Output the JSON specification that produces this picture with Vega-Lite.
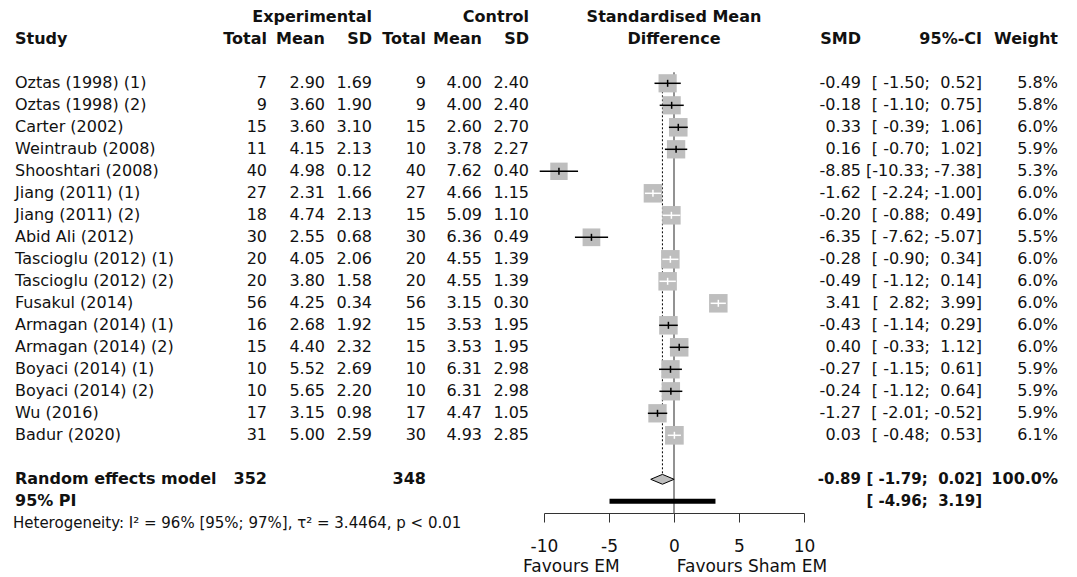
{
  "$schema": "https://vega.github.io/schema/vega-lite/v6.json",
  "width": 1077,
  "height": 513,
  "autosize": "none",
  "padding": {"left": 0, "top": 0, "right": 0, "bottom": 64},
  "config": {
    "view": {"stroke": null},
    "font": "DejaVu Sans",
    "locale": {"number": {"decimal": ".", "thousands": ",", "grouping": [3], "currency": ["$", ""], "minus": "-"}},
    "text": {"font": "DejaVu Sans", "fontSize": 16, "baseline": "middle", "color": "#111111"}
  },
  "datasets": {
    "studies": [
      {"row": "Oztas (1998) (1)", "et": 7, "em": 2.90, "esd": 1.69, "ct": 9, "cm": 4.00, "csd": 2.40, "smd": -0.49, "lo": -1.50, "hi": 0.52, "w": 0.058},
      {"row": "Oztas (1998) (2)", "et": 9, "em": 3.60, "esd": 1.90, "ct": 9, "cm": 4.00, "csd": 2.40, "smd": -0.18, "lo": -1.10, "hi": 0.75, "w": 0.058},
      {"row": "Carter (2002)", "et": 15, "em": 3.60, "esd": 3.10, "ct": 15, "cm": 2.60, "csd": 2.70, "smd": 0.33, "lo": -0.39, "hi": 1.06, "w": 0.060},
      {"row": "Weintraub (2008)", "et": 11, "em": 4.15, "esd": 2.13, "ct": 10, "cm": 3.78, "csd": 2.27, "smd": 0.16, "lo": -0.70, "hi": 1.02, "w": 0.059},
      {"row": "Shooshtari (2008)", "et": 40, "em": 4.98, "esd": 0.12, "ct": 40, "cm": 7.62, "csd": 0.40, "smd": -8.85, "lo": -10.33, "hi": -7.38, "w": 0.053},
      {"row": "Jiang (2011) (1)", "et": 27, "em": 2.31, "esd": 1.66, "ct": 27, "cm": 4.66, "csd": 1.15, "smd": -1.62, "lo": -2.24, "hi": -1.00, "w": 0.060},
      {"row": "Jiang (2011) (2)", "et": 18, "em": 4.74, "esd": 2.13, "ct": 15, "cm": 5.09, "csd": 1.10, "smd": -0.20, "lo": -0.88, "hi": 0.49, "w": 0.060},
      {"row": "Abid Ali (2012)", "et": 30, "em": 2.55, "esd": 0.68, "ct": 30, "cm": 6.36, "csd": 0.49, "smd": -6.35, "lo": -7.62, "hi": -5.07, "w": 0.055},
      {"row": "Tascioglu (2012) (1)", "et": 20, "em": 4.05, "esd": 2.06, "ct": 20, "cm": 4.55, "csd": 1.39, "smd": -0.28, "lo": -0.90, "hi": 0.34, "w": 0.060},
      {"row": "Tascioglu (2012) (2)", "et": 20, "em": 3.80, "esd": 1.58, "ct": 20, "cm": 4.55, "csd": 1.39, "smd": -0.49, "lo": -1.12, "hi": 0.14, "w": 0.060},
      {"row": "Fusakul (2014)", "et": 56, "em": 4.25, "esd": 0.34, "ct": 56, "cm": 3.15, "csd": 0.30, "smd": 3.41, "lo": 2.82, "hi": 3.99, "w": 0.060},
      {"row": "Armagan (2014) (1)", "et": 16, "em": 2.68, "esd": 1.92, "ct": 15, "cm": 3.53, "csd": 1.95, "smd": -0.43, "lo": -1.14, "hi": 0.29, "w": 0.060},
      {"row": "Armagan (2014) (2)", "et": 15, "em": 4.40, "esd": 2.32, "ct": 15, "cm": 3.53, "csd": 1.95, "smd": 0.40, "lo": -0.33, "hi": 1.12, "w": 0.060},
      {"row": "Boyaci (2014) (1)", "et": 10, "em": 5.52, "esd": 2.69, "ct": 10, "cm": 6.31, "csd": 2.98, "smd": -0.27, "lo": -1.15, "hi": 0.61, "w": 0.059},
      {"row": "Boyaci (2014) (2)", "et": 10, "em": 5.65, "esd": 2.20, "ct": 10, "cm": 6.31, "csd": 2.98, "smd": -0.24, "lo": -1.12, "hi": 0.64, "w": 0.059},
      {"row": "Wu (2016)", "et": 17, "em": 3.15, "esd": 0.98, "ct": 17, "cm": 4.47, "csd": 1.05, "smd": -1.27, "lo": -2.01, "hi": -0.52, "w": 0.059},
      {"row": "Badur (2020)", "et": 31, "em": 5.00, "esd": 2.59, "ct": 30, "cm": 4.93, "csd": 2.85, "smd": 0.03, "lo": -0.48, "hi": 0.53, "w": 0.061}
    ],
    "summary": [
      {"row": "Random effects model", "et": 352, "ct": 348, "smd": -0.89, "lo": -1.79, "hi": 0.02, "w": 1.0},
      {"row": "95% PI", "lo": -4.96, "hi": 3.19}
    ]
  },
  "encoding": {
    "y": {
      "field": "row",
      "type": "nominal",
      "scale": {
        "type": "point",
        "padding": 0,
        "range": [17.3, 567.3],
        "domain": ["h1", "h2", "gap1", "Oztas (1998) (1)", "Oztas (1998) (2)", "Carter (2002)", "Weintraub (2008)", "Shooshtari (2008)", "Jiang (2011) (1)", "Jiang (2011) (2)", "Abid Ali (2012)", "Tascioglu (2012) (1)", "Tascioglu (2012) (2)", "Fusakul (2014)", "Armagan (2014) (1)", "Armagan (2014) (2)", "Boyaci (2014) (1)", "Boyaci (2014) (2)", "Wu (2016)", "Badur (2020)", "gap2", "Random effects model", "95% PI", "het", "ticks", "favours"]
      },
      "axis": null
    }
  },
  "layer": [
    {"data": {"values": [{"row": "Oztas (1998) (1)", "row2": "95% PI"}]},
     "mark": {"type": "rule", "color": "#6e6e6e", "strokeWidth": 1.5, "yOffset": -11, "y2Offset": 12},
     "encoding": {"x": {"datum": 0, "type": "quantitative", "scale": {"domain": [-10, 10], "range": [544, 804], "nice": false, "zero": false}, "axis": null},
                  "y2": {"field": "row2"}}},
    {"data": {"name": "summary"}, "transform": [{"filter": "isValid(datum.smd)"}],
     "mark": {"type": "rule", "color": "#000000", "strokeWidth": 1, "strokeDash": [2, 2], "yOffset": 8, "y2Offset": -5},
     "encoding": {"x": {"field": "smd", "type": "quantitative", "scale": {"domain": [-10, 10], "range": [544, 804], "nice": false, "zero": false}, "axis": null},
                  "y": {"datum": "Oztas (1998) (1)", "type": "nominal"},
                  "y2": {"field": "row"}}},
    {"data": {"name": "studies"},
     "mark": {"type": "square", "color": "#bebebe", "opacity": 1, "filled": true},
     "encoding": {
       "x": {"field": "smd", "type": "quantitative", "scale": {"domain": [-10, 10], "range": [544, 804], "nice": false, "zero": false},
             "axis": {"orient": "bottom", "values": [-10, -5, 0, 5, 10], "title": null, "grid": false, "domain": true, "ticks": true, "labels": true, "domainColor": "#333333", "domainWidth": 1, "tickColor": "#333333", "tickSize": 9, "tickWidth": 1, "labelFont": "DejaVu Sans", "labelFontSize": 17, "labelColor": "#111111", "labelPadding": 16, "labelFlush": false, "labelOverlap": false}},
       "size": {"field": "w", "type": "quantitative", "scale": {"domain": [0, 0.06], "range": [0, 342]}, "legend": null}
     }},
    {"data": {"name": "studies"},
     "mark": {"type": "rule", "strokeWidth": 1.5},
     "encoding": {
       "x": {"field": "lo", "type": "quantitative", "scale": {"domain": [-10, 10], "range": [544, 804], "nice": false, "zero": false}, "axis": null},
       "x2": {"field": "hi"},
       "color": {"condition": {"test": "datum.hi - datum.lo < 1.4", "value": "#ffffff"}, "value": "#000000"}
     }},
    {"data": {"name": "studies"},
     "mark": {"type": "tick", "orient": "vertical", "size": 7, "thickness": 1.5, "opacity": 1},
     "encoding": {
       "x": {"field": "smd", "type": "quantitative", "scale": {"domain": [-10, 10], "range": [544, 804], "nice": false, "zero": false}, "axis": null},
       "color": {"condition": {"test": "datum.hi - datum.lo < 1.4", "value": "#ffffff"}, "value": "#000000"}
     }},
    {"data": {"name": "summary"}, "transform": [{"filter": "isValid(datum.smd)"}],
     "mark": {"type": "point", "shape": "M-1,0L0,-0.42L1,0L0,0.42Z", "size": 547, "fill": "#bebebe", "stroke": "#000000", "strokeWidth": 1, "opacity": 1, "fillOpacity": 1},
     "encoding": {"x": {"field": "smd", "type": "quantitative", "scale": {"domain": [-10, 10], "range": [544, 804], "nice": false, "zero": false}, "axis": null}}},
    {"data": {"name": "summary"}, "transform": [{"filter": "!isValid(datum.smd)"}],
     "mark": {"type": "rule", "color": "#000000", "strokeWidth": 5},
     "encoding": {"x": {"field": "lo", "type": "quantitative", "scale": {"domain": [-10, 10], "range": [544, 804], "nice": false, "zero": false}, "axis": null},
                  "x2": {"field": "hi"}}},
    {"data": {"values": [{"row": "h1"}]}, "mark": {"type": "text", "align": "center", "fontWeight": "bold", "text": "Standardised Mean"},
     "encoding": {"x": {"datum": 0, "type": "quantitative", "scale": {"domain": [-10, 10], "range": [544, 804], "nice": false, "zero": false}, "axis": null}}},
    {"data": {"values": [{"row": "h2"}]}, "mark": {"type": "text", "align": "center", "fontWeight": "bold", "text": "Difference"},
     "encoding": {"x": {"datum": 0, "type": "quantitative", "scale": {"domain": [-10, 10], "range": [544, 804], "nice": false, "zero": false}, "axis": null}}},
    {"data": {"values": [{"row": "favours"}]}, "mark": {"type": "text", "align": "center", "fontSize": 17, "text": "Favours EM"},
     "encoding": {"x": {"datum": -7.9, "type": "quantitative", "scale": {"domain": [-10, 10], "range": [544, 804], "nice": false, "zero": false}, "axis": null}}},
    {"data": {"values": [{"row": "favours"}]}, "mark": {"type": "text", "align": "center", "fontSize": 17, "text": "Favours Sham EM"},
     "encoding": {"x": {"datum": 6.0, "type": "quantitative", "scale": {"domain": [-10, 10], "range": [544, 804], "nice": false, "zero": false}, "axis": null}}},

    {"data": {"name": "studies"}, "mark": {"type": "text", "align": "left"},
     "encoding": {"x": {"datum": 15, "type": "quantitative", "scale": {"domain": [0, 1077], "range": [0, 1077]}, "axis": null}, "text": {"field": "row"}}},
    {"data": {"name": "studies"}, "mark": {"type": "text", "align": "right"},
     "encoding": {"x": {"datum": 267, "type": "quantitative", "scale": {"domain": [0, 1077], "range": [0, 1077]}, "axis": null}, "text": {"field": "et", "type": "quantitative", "format": "d"}}},
    {"data": {"name": "studies"}, "mark": {"type": "text", "align": "right"},
     "encoding": {"x": {"datum": 325, "type": "quantitative", "scale": {"domain": [0, 1077], "range": [0, 1077]}, "axis": null}, "text": {"field": "em", "type": "quantitative", "format": ".2f"}}},
    {"data": {"name": "studies"}, "mark": {"type": "text", "align": "right"},
     "encoding": {"x": {"datum": 372, "type": "quantitative", "scale": {"domain": [0, 1077], "range": [0, 1077]}, "axis": null}, "text": {"field": "esd", "type": "quantitative", "format": ".2f"}}},
    {"data": {"name": "studies"}, "mark": {"type": "text", "align": "right"},
     "encoding": {"x": {"datum": 426, "type": "quantitative", "scale": {"domain": [0, 1077], "range": [0, 1077]}, "axis": null}, "text": {"field": "ct", "type": "quantitative", "format": "d"}}},
    {"data": {"name": "studies"}, "mark": {"type": "text", "align": "right"},
     "encoding": {"x": {"datum": 482, "type": "quantitative", "scale": {"domain": [0, 1077], "range": [0, 1077]}, "axis": null}, "text": {"field": "cm", "type": "quantitative", "format": ".2f"}}},
    {"data": {"name": "studies"}, "mark": {"type": "text", "align": "right"},
     "encoding": {"x": {"datum": 529, "type": "quantitative", "scale": {"domain": [0, 1077], "range": [0, 1077]}, "axis": null}, "text": {"field": "csd", "type": "quantitative", "format": ".2f"}}},
    {"data": {"name": "studies"}, "transform": [{"calculate": "replace(format(datum.smd, '.2f'), '\u2212', '-')", "as": "smdt"}], "mark": {"type": "text", "align": "right"},
     "encoding": {"x": {"datum": 861, "type": "quantitative", "scale": {"domain": [0, 1077], "range": [0, 1077]}, "axis": null}, "text": {"field": "smdt"}}},
    {"data": {"name": "studies"},
     "transform": [{"calculate": "replace('[' + pad(format(datum.lo, '.2f'), 6, '\u00a0', 'left') + ';\u00a0' + pad(format(datum.hi, '.2f'), 5, '\u00a0', 'left') + ']', /\u2212/g, '-')", "as": "ci"}],
     "mark": {"type": "text", "align": "right"},
     "encoding": {"x": {"datum": 982, "type": "quantitative", "scale": {"domain": [0, 1077], "range": [0, 1077]}, "axis": null}, "text": {"field": "ci"}}},
    {"data": {"name": "studies"}, "mark": {"type": "text", "align": "right"},
     "encoding": {"x": {"datum": 1058, "type": "quantitative", "scale": {"domain": [0, 1077], "range": [0, 1077]}, "axis": null}, "text": {"field": "w", "type": "quantitative", "format": ".1%"}}},

    {"data": {"name": "summary"}, "mark": {"type": "text", "align": "left", "fontWeight": "bold"},
     "encoding": {"x": {"datum": 15, "type": "quantitative", "scale": {"domain": [0, 1077], "range": [0, 1077]}, "axis": null}, "text": {"field": "row"}}},
    {"data": {"name": "summary"}, "transform": [{"filter": "isValid(datum.et)"}], "mark": {"type": "text", "align": "right", "fontWeight": "bold"},
     "encoding": {"x": {"datum": 267, "type": "quantitative", "scale": {"domain": [0, 1077], "range": [0, 1077]}, "axis": null}, "text": {"field": "et", "type": "quantitative", "format": "d"}}},
    {"data": {"name": "summary"}, "transform": [{"filter": "isValid(datum.ct)"}], "mark": {"type": "text", "align": "right", "fontWeight": "bold"},
     "encoding": {"x": {"datum": 426, "type": "quantitative", "scale": {"domain": [0, 1077], "range": [0, 1077]}, "axis": null}, "text": {"field": "ct", "type": "quantitative", "format": "d"}}},
    {"data": {"name": "summary"}, "transform": [{"filter": "isValid(datum.smd)"}, {"calculate": "replace(format(datum.smd, '.2f'), '\u2212', '-')", "as": "smdt"}], "mark": {"type": "text", "align": "right", "fontWeight": "bold", "fontSize": 15},
     "encoding": {"x": {"datum": 861, "type": "quantitative", "scale": {"domain": [0, 1077], "range": [0, 1077]}, "axis": null}, "text": {"field": "smdt"}}},
    {"data": {"name": "summary"},
     "transform": [{"calculate": "replace('[' + pad(format(datum.lo, '.2f'), 6, '\u00a0', 'left') + ';\u00a0' + pad(format(datum.hi, '.2f'), 5, '\u00a0', 'left') + ']', /\u2212/g, '-')", "as": "ci"}],
     "mark": {"type": "text", "align": "right", "fontWeight": "bold", "fontSize": 15},
     "encoding": {"x": {"datum": 982, "type": "quantitative", "scale": {"domain": [0, 1077], "range": [0, 1077]}, "axis": null}, "text": {"field": "ci"}}},
    {"data": {"name": "summary"}, "transform": [{"filter": "isValid(datum.w)"}], "mark": {"type": "text", "align": "right", "fontWeight": "bold"},
     "encoding": {"x": {"datum": 1058, "type": "quantitative", "scale": {"domain": [0, 1077], "range": [0, 1077]}, "axis": null}, "text": {"field": "w", "type": "quantitative", "format": ".1%"}}},

    {"data": {"values": [{"row": "h1"}]}, "mark": {"type": "text", "align": "right", "fontWeight": "bold", "text": "Experimental"},
     "encoding": {"x": {"datum": 372, "type": "quantitative", "scale": {"domain": [0, 1077], "range": [0, 1077]}, "axis": null}}},
    {"data": {"values": [{"row": "h1"}]}, "mark": {"type": "text", "align": "right", "fontWeight": "bold", "text": "Control"},
     "encoding": {"x": {"datum": 529, "type": "quantitative", "scale": {"domain": [0, 1077], "range": [0, 1077]}, "axis": null}}},
    {"data": {"values": [{"row": "h2"}]}, "mark": {"type": "text", "align": "left", "fontWeight": "bold", "text": "Study"},
     "encoding": {"x": {"datum": 15, "type": "quantitative", "scale": {"domain": [0, 1077], "range": [0, 1077]}, "axis": null}}},
    {"data": {"values": [{"row": "h2"}]}, "mark": {"type": "text", "align": "right", "fontWeight": "bold", "text": "Total"},
     "encoding": {"x": {"datum": 267, "type": "quantitative", "scale": {"domain": [0, 1077], "range": [0, 1077]}, "axis": null}}},
    {"data": {"values": [{"row": "h2"}]}, "mark": {"type": "text", "align": "right", "fontWeight": "bold", "text": "Mean"},
     "encoding": {"x": {"datum": 325, "type": "quantitative", "scale": {"domain": [0, 1077], "range": [0, 1077]}, "axis": null}}},
    {"data": {"values": [{"row": "h2"}]}, "mark": {"type": "text", "align": "right", "fontWeight": "bold", "text": "SD"},
     "encoding": {"x": {"datum": 372, "type": "quantitative", "scale": {"domain": [0, 1077], "range": [0, 1077]}, "axis": null}}},
    {"data": {"values": [{"row": "h2"}]}, "mark": {"type": "text", "align": "right", "fontWeight": "bold", "text": "Total"},
     "encoding": {"x": {"datum": 426, "type": "quantitative", "scale": {"domain": [0, 1077], "range": [0, 1077]}, "axis": null}}},
    {"data": {"values": [{"row": "h2"}]}, "mark": {"type": "text", "align": "right", "fontWeight": "bold", "text": "Mean"},
     "encoding": {"x": {"datum": 482, "type": "quantitative", "scale": {"domain": [0, 1077], "range": [0, 1077]}, "axis": null}}},
    {"data": {"values": [{"row": "h2"}]}, "mark": {"type": "text", "align": "right", "fontWeight": "bold", "text": "SD"},
     "encoding": {"x": {"datum": 529, "type": "quantitative", "scale": {"domain": [0, 1077], "range": [0, 1077]}, "axis": null}}},
    {"data": {"values": [{"row": "h2"}]}, "mark": {"type": "text", "align": "right", "fontWeight": "bold", "text": "SMD"},
     "encoding": {"x": {"datum": 861, "type": "quantitative", "scale": {"domain": [0, 1077], "range": [0, 1077]}, "axis": null}}},
    {"data": {"values": [{"row": "h2"}]}, "mark": {"type": "text", "align": "right", "fontWeight": "bold", "text": "95%-CI"},
     "encoding": {"x": {"datum": 982, "type": "quantitative", "scale": {"domain": [0, 1077], "range": [0, 1077]}, "axis": null}}},
    {"data": {"values": [{"row": "h2"}]}, "mark": {"type": "text", "align": "right", "fontWeight": "bold", "text": "Weight"},
     "encoding": {"x": {"datum": 1058, "type": "quantitative", "scale": {"domain": [0, 1077], "range": [0, 1077]}, "axis": null}}},
    {"data": {"values": [{"row": "het"}]}, "mark": {"type": "text", "align": "left", "fontSize": 15, "text": "Heterogeneity: I² = 96% [95%; 97%], τ² = 3.4464, p < 0.01"},
     "encoding": {"x": {"datum": 13, "type": "quantitative", "scale": {"domain": [0, 1077], "range": [0, 1077]}, "axis": null}}}
  ],
  "resolve": {"scale": {"x": "independent"}}
}
